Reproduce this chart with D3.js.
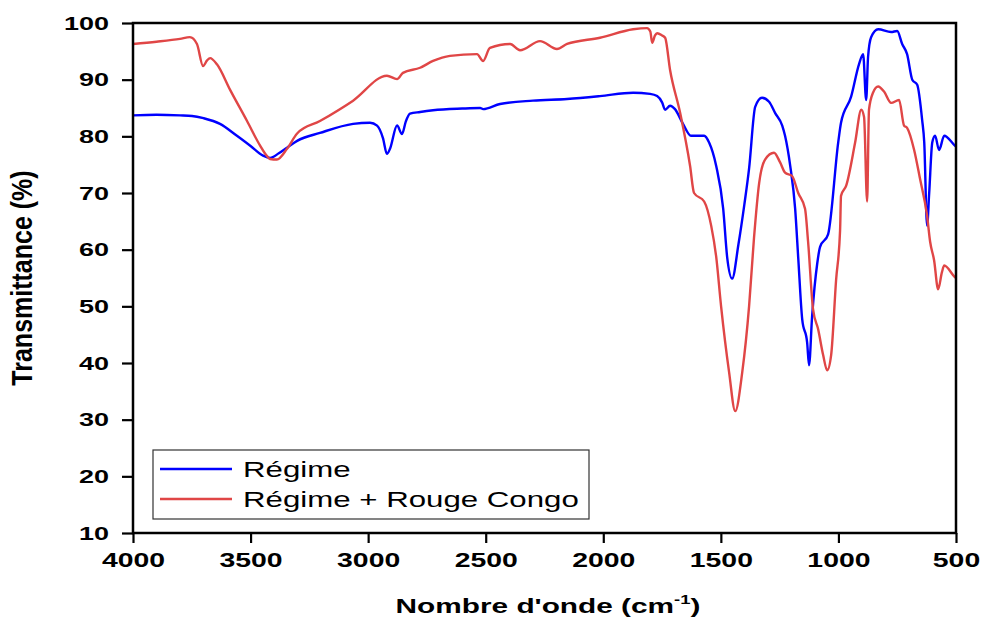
<!DOCTYPE html>
<html>
<head>
<meta charset="utf-8">
<script src="https://cdn.jsdelivr.net/npm/d3@7"></script>
<style>
  body { margin: 0; background: #fff; }
  svg { display: block; }
  text { font-family: "Liberation Sans", Arial, sans-serif; fill: #000; }
</style>
</head>
<body>
<svg id="chart" width="982" height="619"></svg>
<script>
// spectra (wavenumber, transmittance)
const blueWn = [4000,3900,3800,3749,3700,3630,3558,3500,3447,3417,3380,3345,3302,3205,3064,2992,2962,2937,2920,2907,2877,2856,2840,2822,2779,2724,2600,2524,2511,2439,2299,2154,2014,1873,1801,1771,1750,1737,1716,1695,1661,1627,1600,1571,1550,1520,1490,1473,1452,1425,1400,1380,1354,1325,1295,1269,1239,1227,1205,1184,1171,1154,1133,1125,1112,1090,1078,1044,1001,989,946,912,895,882,874,861,831,776,750,729,708,686,665,644,635,623,614,601,589,572,550,508,500];
const blueT = [83.7,83.8,83.7,83.6,83.2,82.2,80.1,78.3,76.6,76.2,77,78,79.2,80.6,82.2,82.4,81.9,79.7,76.9,77.8,81.9,80.4,82.6,84,84.3,84.6,84.9,85,84.8,85.7,86.3,86.6,87.1,87.7,87.5,87.1,86,84.7,85.4,84.8,82.2,80.1,80.1,80.1,78.9,74.8,67.2,58.6,54.9,61,68,74.3,85.2,86.8,86.1,84.1,81.9,80.1,74.8,67.2,58.6,47.7,43.6,39.6,48.2,57.6,60.5,62.7,78.9,82.4,87,92.8,94.5,86.4,94,97.5,98.9,98.4,98.6,96.3,94.5,90,89.1,82.9,78.9,64.2,70,78.9,80.1,77.6,80.1,78.5,78.2];

const redWn = [4000,3900,3800,3758,3728,3702,3685,3672,3643,3587,3515,3460,3430,3417,3388,3345,3302,3205,3064,2920,2877,2852,2779,2724,2652,2537,2511,2482,2396,2354,2269,2197,2154,2014,1873,1814,1800,1792,1780,1771,1750,1737,1716,1673,1631,1614,1571,1541,1520,1499,1465,1439,1409,1380,1359,1337,1312,1274,1248,1227,1197,1171,1142,1129,1108,1086,1065,1048,1031,1010,993,989,967,929,903,891,878,870,853,831,806,776,742,721,708,678,653,623,610,593,576,560,550,508,500];
const redT = [96.3,96.7,97.2,97.5,96.3,92.4,93.4,93.8,92.7,88.2,82.7,78.4,76.5,76,75.9,77.8,80.5,82.7,86.3,90.7,90.1,91.2,92.1,93.3,94.2,94.5,93.3,95.6,96.3,95.2,96.8,95.4,96.3,97.4,98.9,99.1,98.5,96.5,97.8,98.2,97.8,97.4,91.7,84.1,74.8,70,68.5,64.2,58.8,50,38.4,31.5,38.4,50,62.1,71.8,75.9,77.1,75.4,73.6,73,70,67.2,61.4,49.5,45.9,41.4,38.7,41.4,54.6,63.4,69.5,71.3,78.9,84.7,83.4,68.5,84.7,87.7,88.8,87.9,85.9,86.4,81.9,81.5,77.6,72.5,66,61.4,58.1,53,56,57.2,55.3,55];

const seriesNames = ["Régime", "Régime + Rouge Congo"];
const seriesColors = ["#0000ff", "#e04646"];
const xTicks = [4000, 3500, 3000, 2500, 2000, 1500, 1000, 500];
const yTicks = [10, 20, 30, 40, 50, 60, 70, 80, 90, 100];

const svg = d3.select("#chart");
const plotL = 133, plotR = 956, plotT = 23, plotB = 533;
const stretch = 1.42; // the original text looks horizontally widened

const x = d3.scaleLinear().domain([4000, 500]).range([plotL, plotR]);
const y = d3.scaleLinear().domain([10, 100]).range([plotB, plotT]);

// lines
const line = d3.line()
  .x(d => x(d[0]))
  .y(d => y(d[1]))
  .curve(d3.curveMonotoneX);

const series = [
  d3.zip(blueWn, blueT),
  d3.zip(redWn, redT)
];

svg.append("g")
  .selectAll("path")
  .data(series)
  .join("path")
  .attr("d", line)
  .attr("fill", "none")
  .attr("stroke", (d, i) => seriesColors[i])
  .attr("stroke-width", 2.4)
  .attr("stroke-linejoin", "round");

// frame
svg.append("rect")
  .attr("x", plotL).attr("y", plotT)
  .attr("width", plotR - plotL).attr("height", plotB - plotT)
  .attr("fill", "none")
  .attr("stroke", "#000")
  .attr("stroke-width", 2.5);

// axes
const xMinor = d3.range(4000, 499, -250);
const yMinor = d3.range(10, 101, 5);

const gx = svg.append("g").attr("transform", `translate(0,${plotB})`);
gx.call(d3.axisBottom(x).tickValues(xMinor).tickSize(5).tickFormat(""));
gx.call(d3.axisBottom(x).tickValues(xTicks).tickSize(10).tickFormat(d3.format("d")));

const gy = svg.append("g").attr("transform", `translate(${plotL},0)`);
gy.call(d3.axisLeft(y).tickValues(yMinor).tickSize(5).tickFormat(""));
gy.call(d3.axisLeft(y).tickValues(yTicks).tickSize(11).tickFormat(d3.format("d")));

svg.selectAll(".domain").remove();
svg.selectAll(".tick line").attr("stroke", "#000").attr("stroke-width", 2.2);

gx.selectAll(".tick text")
  .attr("font-family", "'Liberation Sans', Arial, sans-serif")
  .attr("font-size", 20)
  .attr("font-weight", "bold")
  .attr("fill", "#000")
  .attr("y", 20)
  .attr("transform", `scale(${stretch},1)`);

gy.selectAll(".tick text")
  .attr("font-family", "'Liberation Sans', Arial, sans-serif")
  .attr("font-size", 19)
  .attr("font-weight", "bold")
  .attr("fill", "#000")
  .attr("x", -24 / stretch)
  .attr("transform", `scale(${stretch},1)`);

// axis titles
const xt = svg.append("text")
  .attr("transform", `translate(548,613) scale(${stretch},1)`)
  .attr("text-anchor", "middle")
  .attr("font-size", 21)
  .attr("font-weight", "bold");
xt.append("tspan").text("Nombre d'onde (cm");
xt.append("tspan").attr("font-size", 13).attr("dy", -9).text("-1");
xt.append("tspan").attr("dy", 9).text(")");

svg.append("text")
  .attr("transform", `translate(32,278) scale(1.2,1) rotate(-90)`)
  .attr("text-anchor", "middle")
  .attr("font-size", 25)
  .attr("font-weight", "bold")
  .text("Transmittance (%)");

// legend
const legend = svg.append("g");
legend.append("rect")
  .attr("x", 153).attr("y", 450)
  .attr("width", 436).attr("height", 69)
  .attr("fill", "#fff")
  .attr("stroke", "#333")
  .attr("stroke-width", 1.2);

seriesNames.forEach((name, i) => {
  const ly = 469 + i * 30;
  legend.append("line")
    .attr("x1", 160).attr("x2", 232)
    .attr("y1", ly).attr("y2", ly)
    .attr("stroke", seriesColors[i])
    .attr("stroke-width", 2.4);
  legend.append("text")
    .attr("transform", `translate(243,${ly + 8}) scale(${stretch},1)`)
    .attr("font-size", 22)
    .text(name);
});
</script>
</body>
</html>
